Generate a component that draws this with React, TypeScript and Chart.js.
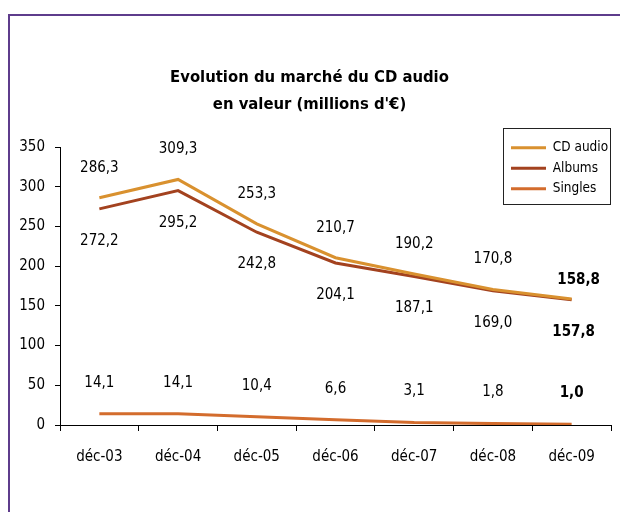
import React, { useEffect, useRef } from 'react';
import { Chart, registerables } from 'chart.js';

Chart.register(...registerables);

const categories = ['déc-03', 'déc-04', 'déc-05', 'déc-06', 'déc-07', 'déc-08', 'déc-09'];
const cdAudio = [286.3, 309.3, 253.3, 210.7, 190.2, 170.8, 158.8];
const albums = [272.2, 295.2, 242.8, 204.1, 187.1, 169.0, 157.8];
const singles = [14.1, 14.1, 10.4, 6.6, 3.1, 1.8, 1.0];
const seriesNames = ['CD audio', 'Albums', 'Singles'];
const seriesColors = ['#D9912F', '#A3421F', '#D36C2D'];
const titleLines = ['Evolution du marché du CD audio', "en valeur (millions d'€)"];
const yMin = 0;
const yMax = 350;
const yStep = 50;

const FONT = '"Liberation Sans Narrow", "DejaVu Sans Condensed", "Roboto Condensed", sans-serif';

const fmt = (v: number) => v.toFixed(1).replace('.', ',');

const framePlugin = {
  id: 'frame',
  beforeDraw(chart: any) {
    const ctx = chart.ctx;
    ctx.save();
    ctx.fillStyle = '#ffffff';
    ctx.fillRect(0, 0, chart.width, chart.height);
    ctx.strokeStyle = '#5E3C8C';
    ctx.lineWidth = 2;
    ctx.beginPath();
    ctx.moveTo(9, chart.height);
    ctx.lineTo(9, 15);
    ctx.lineTo(chart.width, 15);
    ctx.stroke();
    ctx.restore();
  },
};

const legendPlacer = {
  id: 'legendPlacer',
  afterLayout(chart: any) {
    const lg = chart.legend;
    if (!lg) return;
    lg.left = 504;
    lg.top = 134;
    lg.width = 200;
    lg.height = 80;
    lg.right = lg.left + lg.width;
    lg.bottom = lg.top + lg.height;
  },
  afterDraw(chart: any) {
    const lg = chart.legend;
    if (!lg) return;
    const ctx = chart.ctx;
    ctx.save();
    ctx.strokeStyle = '#222';
    ctx.lineWidth = 1;
    ctx.strokeRect(503.5, 128.5, 107, 76);
    ctx.restore();
  },
};

const valueLabels = {
  id: 'valueLabels',
  afterDatasetsDraw(chart: any) {
    const ctx = chart.ctx;
    const offsets = [-30, 32, -31];
    chart.data.datasets.forEach((ds: any, i: number) => {
      const meta = chart.getDatasetMeta(i);
      meta.data.forEach((pt: any, j: number) => {
        const last = j === meta.data.length - 1;
        let dx = 0;
        let dy = offsets[i];
        if (last) {
          if (i === 0) { dx = 7; dy = -19; }
          else if (i === 1) { dx = 2; }
        }
        ctx.save();
        ctx.font = `${last ? 'bold ' : ''}15px ${FONT}`;
        ctx.fillStyle = '#000';
        ctx.textAlign = 'center';
        ctx.textBaseline = 'middle';
        ctx.fillText(fmt(ds.data[j]), pt.x + dx, pt.y + dy);
        ctx.restore();
      });
    });
  },
};

export default function App() {
  const ref = useRef<HTMLCanvasElement | null>(null);

  useEffect(() => {
    document.body.style.margin = '0';
    document.body.style.overflow = 'hidden';
    const canvas = ref.current;
    if (!canvas) return;
    const seriesData = [cdAudio, albums, singles];
    const chart = new Chart(canvas, {
      type: 'line',
      data: {
        labels: categories,
        datasets: seriesData.map((d, i) => ({
          label: seriesNames[i],
          data: d,
          borderColor: seriesColors[i],
          backgroundColor: seriesColors[i],
          borderWidth: 3,
          pointRadius: 0,
          tension: 0,
          fill: false,
        })),
      },
      options: {
        responsive: false,
        animation: false,
        devicePixelRatio: 1,
        events: [],
        layout: { padding: { left: 8, right: 9, top: 0, bottom: 46 } },
        plugins: {
          tooltip: { enabled: false },
          title: {
            display: true,
            text: titleLines,
            color: '#000',
            font: { family: FONT, size: 16.5, weight: 'bold', lineHeight: 1.64 },
            padding: { top: 64, bottom: 29 },
          },
          legend: {
            position: 'chartArea',
            align: 'start',
            labels: {
              usePointStyle: true,
              pointStyle: 'line',
              pointStyleWidth: 35,
              padding: 7,
              color: '#000',
              font: { family: FONT, size: 13.5 },
            },
          },
        },
        scales: {
          x: {
            type: 'category',
            offset: true,
            grid: { display: true, offset: true, drawOnChartArea: false, drawTicks: true, tickLength: 6, color: '#000' },
            border: { display: true, color: '#000', width: 1 },
            ticks: { color: '#000', padding: 17, font: { family: FONT, size: 15 }, maxRotation: 0 },
            afterFit: (s: any) => { s.height = 41; },
          },
          y: {
            min: yMin,
            max: yMax,
            ticks: { stepSize: yStep, color: '#000', padding: 10, font: { family: FONT, size: 15 } },
            grid: { display: true, drawOnChartArea: false, drawTicks: true, tickLength: 5, color: '#000' },
            border: { display: true, color: '#000', width: 1 },
            afterFit: (s: any) => { s.width = 52; },
          },
        },
      },
      plugins: [framePlugin, legendPlacer, valueLabels],
    } as any);
    return () => chart.destroy();
  }, []);

  return <canvas ref={ref} width={620} height={512} style={{ display: 'block' }} />;
}
